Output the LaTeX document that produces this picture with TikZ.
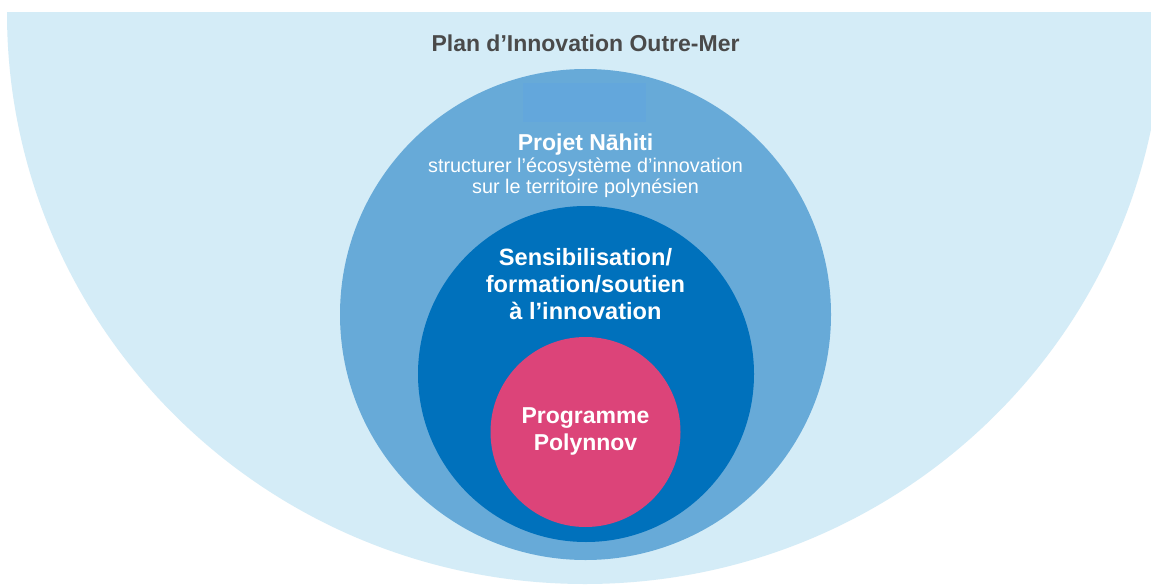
\documentclass[tikz,border=0pt]{standalone}
\usepackage{fontspec}
\setmainfont{Liberation Sans}
\definecolor{lightbg}{HTML}{D4ECF7}
\definecolor{midblue}{HTML}{67AAD8}
\definecolor{patchblue}{HTML}{63A7DC}
\definecolor{darkblue}{HTML}{0071BC}
\definecolor{pinkc}{HTML}{DC4479}
\definecolor{titlegrey}{HTML}{4A4A4A}
\begin{document}
\begin{tikzpicture}[x=1pt,y=-1pt,
  disc/.style={circle, inner sep=0pt, draw=none},
  lbl/.style={anchor=base, inner sep=0pt, text=white}]
\useasboundingbox (0,0) rectangle (1151,586);
\fill[white] (0,0) rectangle (1151,586);
\begin{scope}
  \clip (0,13) rectangle (1151,586);
  \fill[lightbg] (585,13) ellipse [x radius=578, y radius=571];
\end{scope}
\node[disc, fill=midblue, minimum size=491pt] (mid) at (585.5,314.5) {};
\node[draw=none, fill=patchblue, inner sep=0pt, minimum width=123pt, minimum height=39pt] (patch) at (584.5,102.5) {};
\node[disc, fill=darkblue, minimum size=336pt] (dark) at (586,374) {};
\node[disc, fill=pinkc, minimum size=190pt] (pink) at (585.5,432) {};
\node[anchor=base, inner sep=0pt, text=titlegrey, font=\fontsize{23}{28}\selectfont\bfseries] (title) at (585.5,52) {Plan d’Innovation Outre-Mer};
\node[lbl, font=\fontsize{23}{28}\selectfont\bfseries] (proj) at (585.5,150) {Projet Nāhiti};
\node[lbl, font=\fontsize{19.8}{24}\selectfont] (proj2) at (585.5,172) {structurer l’écosystème d’innovation};
\node[lbl, font=\fontsize{19.8}{24}\selectfont] (proj3) at (585.5,193) {sur le territoire polynésien};
\node[lbl, font=\fontsize{23.6}{28}\selectfont\bfseries] (sens1) at (585.5,265) {Sensibilisation/};
\node[lbl, font=\fontsize{23.6}{28}\selectfont\bfseries] (sens2) at (585.5,292) {formation/soutien};
\node[lbl, font=\fontsize{23.6}{28}\selectfont\bfseries] (sens3) at (585.5,319) {à l’innovation};
\node[lbl, font=\fontsize{23}{28}\selectfont\bfseries] (prog1) at (585.5,423) {Programme};
\node[lbl, font=\fontsize{23}{28}\selectfont\bfseries] (prog2) at (585.5,450) {Polynnov};
\end{tikzpicture}
\end{document}
